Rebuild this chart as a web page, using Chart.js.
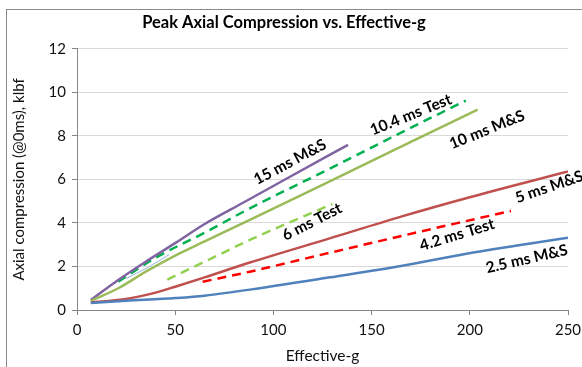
<!DOCTYPE html>
<html>
<head>
<meta charset="utf-8">
<script src="https://cdn.jsdelivr.net/npm/chart.js@4.4.0/dist/chart.umd.min.js"></script>
<style>
  body { margin: 0; background: #fff; }
  #frame { position: absolute; left: 6px; top: 9px; width: 620px; height: 420px; border: 1px solid #8a8a8a; }
  #peakChart { position: absolute; left: 0; top: 0; }
</style>
</head>
<body>
<div id="frame"></div>
<canvas id="peakChart" width="582" height="367"></canvas>
<script>
// values, effective-g vs peak axial compression (klbf)
var g_25ms = [7, 25, 50, 65, 93, 129, 165, 195, 250];
var v_25ms = [0.32, 0.42, 0.55, 0.66, 1.0, 1.5, 2.02, 2.53, 3.32];

var g_5ms = [7, 24, 40, 50, 65, 88, 129, 165, 200, 250];
var v_5ms = [0.35, 0.49, 0.8, 1.07, 1.5, 2.18, 3.3, 4.29, 5.18, 6.36];

var g_10ms = [7, 21, 35, 50, 65, 88, 130, 170, 204];
var v_10ms = [0.42, 1.0, 1.76, 2.5, 3.15, 4.14, 5.97, 7.72, 9.2];

var g_15ms = [7, 21, 35, 50, 65, 85, 105, 138];
var v_15ms = [0.46, 1.38, 2.22, 3.07, 3.95, 4.95, 5.95, 7.59];

var g_104test = [21, 40, 65, 88, 130, 165, 198];
var v_104test = [1.3, 2.4, 3.55, 4.67, 6.55, 8.15, 9.62];

var g_6test = [46, 65, 88, 130];
var v_6test = [1.4, 2.22, 3.22, 4.87];

var g_42test = [64, 88, 131, 193, 221];
var v_42test = [1.3, 1.76, 2.68, 3.98, 4.55];

var g_extra = [25, 36, 47];
var v_extra = [1.45, 1.95, 2.55];

var xTicks = [0, 50, 100, 150, 200, 250];
var yTicks = [0, 2, 4, 6, 8, 10, 12];

function pts(gs, vs) {
    return gs.map(function(g, i){ return {x: g, y: vs[i]}; });
}

var FONT = 'Lato, "Liberation Sans", sans-serif';

// line labels, placed in data coordinates
var lineLabels = [
    {text: '15 ms M&S',   g: 108.5, v: 6.8,  angle: -28},
    {text: '10.4 ms Test', g: 170,  v: 8.97, angle: -22},
    {text: '10 ms M&S',   g: 208.8, v: 8.28, angle: -22},
    {text: '6 ms Test',   g: 119.7, v: 4.05, angle: -27},
    {text: '5 ms M&S',    g: 240.5, v: 5.65, angle: -19},
    {text: '4.2 ms Test', g: 193.5, v: 3.45, angle: -17},
    {text: '2.5 ms M&S',  g: 229,   v: 2.34, angle: -13}
];

var labelPlugin = {
    id: 'lineLabels',
    afterDatasetsDraw: function(chart) {
        var ctx = chart.ctx;
        var xs = chart.scales.x, ys = chart.scales.y;
        ctx.save();
        ctx.fillStyle = '#000';
        ctx.font = 'bold 15.5px ' + FONT;
        ctx.textAlign = 'center';
        ctx.textBaseline = 'middle';
        lineLabels.forEach(function(l){
            ctx.save();
            ctx.translate(xs.getPixelForValue(l.g), ys.getPixelForValue(l.v));
            ctx.rotate(l.angle * Math.PI / 180);
            ctx.fillText(l.text, 0, 0);
            ctx.restore();
        });
        ctx.restore();
    }
};

function series(label, data, color, dashed, width) {
    return {
        label: label,
        data: data,
        borderColor: color,
        backgroundColor: color,
        borderWidth: width || 2.5,
        borderDash: dashed ? [9, 6] : [],
        pointRadius: 0,
        cubicInterpolationMode: 'monotone',
        fill: false,
        showLine: true
    };
}

var ctx = document.getElementById('peakChart');
new Chart(ctx, {
    type: 'scatter',
    data: {
        datasets: [
            series('extra', pts(g_extra, v_extra), '#95B3D7', false, 1),
            series('2.5 ms M&S', pts(g_25ms, v_25ms), '#4F81BD'),
            series('5 ms M&S', pts(g_5ms, v_5ms), '#C0504D'),
            series('10 ms M&S', pts(g_10ms, v_10ms), '#9BBB59'),
            series('15 ms M&S', pts(g_15ms, v_15ms), '#8064A2'),
            series('10.4 ms Test', pts(g_104test, v_104test), '#00B050', true),
            series('6 ms Test', pts(g_6test, v_6test), '#92D050', true),
            series('4.2 ms Test', pts(g_42test, v_42test), '#FF0000', true)
        ]
    },
    options: {
        responsive: false,
        animation: false,
        layout: { padding: { left: 0, right: 14, top: 0, bottom: 0 } },
        plugins: {
            legend: { display: false },
            tooltip: { enabled: false },
            title: {
                display: true,
                text: 'Peak Axial Compression vs. Effective-g',
                color: '#000',
                font: { family: FONT, size: 16.5, weight: 'bold' },
                padding: { top: 13, bottom: 16 }
            }
        },
        scales: {
            x: {
                type: 'linear',
                min: 0, max: 250,
                afterBuildTicks: function(s){ s.ticks = xTicks.map(function(v){ return {value: v}; }); },
                afterFit: function(s){ s.height = 57; s.paddingRight = 0; s.paddingLeft = 0; },
                grid: { drawOnChartArea: false, tickLength: 5, color: '#868686' },
                border: { color: '#868686' },
                ticks: { color: '#111', font: { family: FONT, size: 15 }, padding: 6, maxRotation: 0 },
                title: { display: true, text: 'Effective-g', color: '#111', font: { family: FONT, size: 15.5 }, padding: { top: 0, bottom: 2 } }
            },
            y: {
                min: 0, max: 12,
                afterBuildTicks: function(s){ s.ticks = yTicks.map(function(v){ return {value: v}; }); },
                afterFit: function(s){ s.width = 77; },
                grid: { color: '#d9d9d9', tickLength: 5, tickColor: '#868686' },
                border: { color: '#868686' },
                ticks: { color: '#111', font: { family: FONT, size: 15 }, padding: 6 },
                title: { display: true, text: 'Axial compression (@0ms), klbf', color: '#111', font: { family: FONT, size: 15 }, padding: { top: 10, bottom: 0 } }
            }
        }
    },
    plugins: [labelPlugin]
});
</script>
</body>
</html>
